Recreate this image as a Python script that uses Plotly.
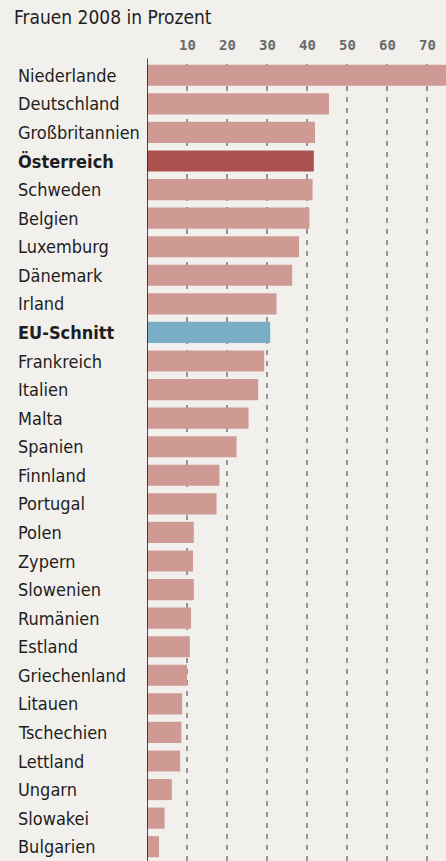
import plotly.graph_objects as go

countries = ["Niederlande", "Deutschland", "Großbritannien", "Österreich", "Schweden",
             "Belgien", "Luxemburg", "Dänemark", "Irland", "EU-Schnitt", "Frankreich",
             "Italien", "Malta", "Spanien", "Finnland", "Portugal", "Polen", "Zypern",
             "Slowenien", "Rumänien", "Estland", "Griechenland", "Litauen", "Tschechien",
             "Lettland", "Ungarn", "Slowakei", "Bulgarien"]
values = [75.5, 45.5, 42.0, 41.7, 41.4, 40.6, 38.0, 36.3, 32.4, 30.8, 29.3,
          27.8, 25.4, 22.4, 18.1, 17.4, 11.7, 11.5, 11.7, 11.0, 10.7, 10.0, 8.8, 8.6,
          8.3, 6.2, 4.4, 3.0]
tick_vals = [10, 20, 30, 40, 50, 60, 70]
title_text = "Frauen 2008 in Prozent"

W, H = 446, 861
ML, MT = 147, 61
plot_w = W - ML
BG = "#f1f0ec"

colors = []
for c in countries:
    if c == "Österreich":
        colors.append("#a9524e")
    elif c == "EU-Schnitt":
        colors.append("#7aaec6")
    else:
        colors.append("#cf9a94")

fig = go.Figure()
fig.add_trace(go.Bar(
    x=values, y=countries, orientation="h",
    marker=dict(color=colors, line=dict(width=0)),
    width=0.74, hoverinfo="x+y",
))

font_fam = "Liberation Sans Narrow, DejaVu Sans Condensed, Arial Narrow, sans-serif"

# gridlines as dashed shapes under bars
for t in tick_vals:
    fig.add_shape(type="line", xref="x", yref="paper", x0=t, x1=t, y0=0, y1=1,
                  line=dict(color="#3a3a3a", width=1, dash="5px,6px"), layer="below")

# axis line at zero
fig.add_shape(type="line", xref="x", yref="paper", x0=0, x1=0, y0=0, y1=1.003,
              line=dict(color="#222222", width=1.6), layer="above")

# category labels, left aligned
for c in countries:
    bold = c in ("Österreich", "EU-Schnitt")
    fig.add_annotation(
        x=(16 - ML) / plot_w, xref="paper", y=c, yref="y",
        text=f"<b>{c}</b>" if bold else c, showarrow=False,
        xanchor="left", yanchor="middle",
        font=dict(family=font_fam, size=18, color="#1e1e1e"),
    )

# title
fig.add_annotation(
    x=(12 - ML) / plot_w, xref="paper", y=1 + (MT - 17) / (H - MT), yref="paper",
    text=title_text, showarrow=False, xanchor="left", yanchor="middle",
    font=dict(family=font_fam, size=19, color="#1e1e1e"),
)

# tick labels at top
for t in tick_vals:
    fig.add_annotation(
        x=t, xref="x", y=1 + (MT - 45) / (H - MT), yref="paper",
        text=f"<b>{t}</b>", showarrow=False, xanchor="center", yanchor="middle",
        font=dict(family="DejaVu Sans Mono, Liberation Mono, monospace", size=14, color="#6a6a6a"),
    )

fig.update_layout(
    width=W, height=H,
    margin=dict(l=ML, r=0, t=MT, b=0),
    paper_bgcolor=BG, plot_bgcolor=BG,
    showlegend=False,
    bargap=0.26,
    xaxis=dict(range=[0, plot_w / 4.0], showgrid=False, zeroline=False,
               showticklabels=False, ticks="", fixedrange=True),
    yaxis=dict(categoryorder="array", categoryarray=countries, autorange="reversed",
               showticklabels=False, showgrid=False, zeroline=False, ticks="",
               fixedrange=True),
)

fig.write_html(
    "out.html",
    config={"displayModeBar": False},
    post_script=(
        "document.body.style.margin='0';document.body.style.padding='0';"
        "document.body.style.overflow='hidden';"
        f"document.body.style.background='{BG}';"
    ),
)
